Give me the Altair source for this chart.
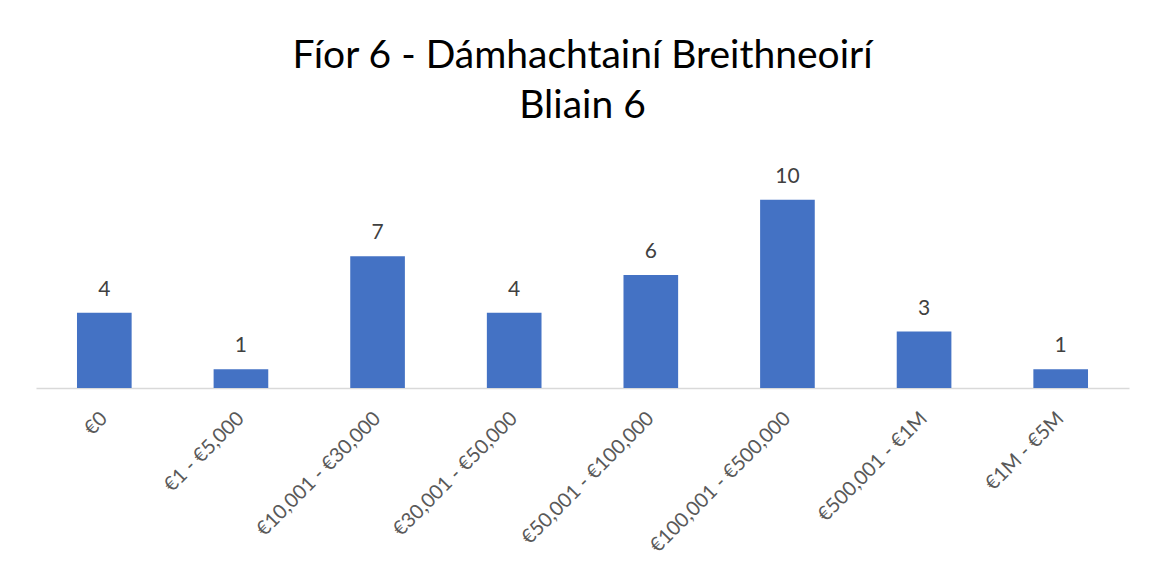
import altair as alt
import pandas as pd

categories = ["€0", "€1 - €5,000", "€10,001 - €30,000", "€30,001 - €50,000",
              "€50,001 - €100,000", "€100,001 - €500,000", "€500,001 - €1M", "€1M - €5M"]
values = [4, 1, 7, 4, 6, 10, 3, 1]

df = pd.DataFrame({"cat": categories, "val": values})

FONT = "Lato"

base = alt.Chart(df).encode(
    x=alt.X("cat:N", sort=categories, title=None,
            scale=alt.Scale(paddingInner=0.6, paddingOuter=0.3),
            axis=alt.Axis(labelAngle=-45, labelAlign="right", labelBaseline="middle",
                          labelFontSize=20, labelColor="#595959", labelFont=FONT,
                          labelPadding=27, ticks=False, domainColor="#D9D9D9",
                          domainWidth=1.5, labelLimit=300)),
    y=alt.Y("val:Q", scale=alt.Scale(domain=[0, 12]), axis=None),
)

bars = base.mark_bar(color="#4472C4")
labels = base.mark_text(dy=-17, baseline="alphabetic", fontSize=21, color="#404040", font=FONT).encode(
    text="val:Q")

chart = (bars + labels).properties(
    width=1093, height=226,
    title=alt.Title(["Fíor 6 - Dámhachtainí Breithneoirí", "Bliain 6"],
                    fontSize=39, font=FONT, fontWeight="normal", color="#000000",
                    lineHeight=50, anchor="middle", offset=36),
    autosize=alt.AutoSizeParams(type="none"),
    padding={"left": 28, "top": 154, "right": 20, "bottom": 180},
).configure_view(stroke=None).configure_axis(grid=False)

chart.save("out.html", embed_options={"renderer": "svg", "actions": False})
